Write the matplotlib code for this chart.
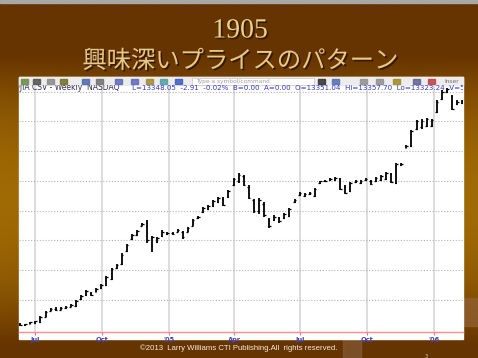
import numpy as np
import pandas as pd
import matplotlib
matplotlib.use("Agg")
import matplotlib.pyplot as plt
import matplotlib.dates as mdates
import matplotlib.patheffects as pe
from matplotlib.patches import Rectangle

# ---------------- data ----------------
title_top = "1905"
title_jp = "興味深いプライスのパターン"
footer = "©2013  Larry Williams CTI Publishing.All  rights reserved."
header_left = "DJIA CSV - Weekly  NASDAQ"
header_right = "L=13348.05  -2.91  -0.02%  B=0.00  A=0.00  O=13351.04  Hi=13357.70  Lo=13323.24  V=57"

start_date = "1904-06-10"
highs = [56.1, 56.0, 56.3, 56.5, 57.3, 58.2, 58.7, 58.8, 58.8, 59.0,
         59.3, 60.0, 60.8, 61.7, 61.3, 62.0, 62.7, 64.0, 65.4, 66.0,
         67.9, 69.4, 71.1, 71.8, 72.9, 73.4, 70.7, 70.6, 71.8, 71.4,
         71.4, 71.9, 71.6, 72.3, 73.6, 74.1, 75.6, 75.9, 76.8, 77.3,
         77.3, 78.5, 80.5, 81.3, 81.0, 79.3, 77.0, 77.1, 76.4, 73.8,
         74.3, 73.9, 74.6, 75.4, 77.0, 78.1, 78.0, 78.1, 78.8, 80.0,
         80.1, 80.5, 80.6, 80.5, 79.3, 79.8, 80.1, 80.1, 80.5, 80.1,
         80.6, 81.0, 81.5, 81.3, 83.0, 83.0, 86.0, 88.5, 90.2, 90.4,
         90.5, 90.4, 93.6, 95.2, 95.6, 94.4, 93.6, 93.6]
lows = [55.6, 55.6, 56.0, 56.0, 56.1, 57.2, 58.2, 58.2, 58.3, 58.5,
        58.8, 58.8, 60.0, 60.7, 60.7, 61.3, 61.9, 62.4, 63.4, 65.2,
        65.9, 68.1, 70.1, 70.7, 72.4, 69.6, 68.1, 69.6, 70.6, 70.9,
        70.9, 71.4, 70.2, 71.4, 72.4, 73.6, 74.6, 75.1, 75.6, 76.3,
        75.8, 77.1, 79.1, 79.6, 79.1, 77.0, 74.6, 74.4, 73.9, 72.1,
        73.3, 72.9, 73.6, 73.9, 76.3, 77.5, 77.3, 77.6, 77.3, 79.5,
        79.8, 80.0, 80.0, 78.5, 77.8, 78.1, 79.6, 79.5, 80.0, 79.3,
        79.8, 80.0, 80.1, 79.6, 79.5, 82.5, 85.5, 85.7, 88.5, 88.7,
        89.0, 89.0, 91.4, 93.6, 94.7, 91.9, 92.7, 92.9]
opens = [55.9, 55.8, 56.0, 56.2, 56.3, 57.2, 58.2, 58.5, 58.4, 58.6,
         58.9, 59.0, 60.1, 60.8, 61.2, 61.4, 62.0, 62.5, 63.5, 65.4,
         66.0, 68.2, 70.2, 70.9, 72.5, 73.0, 69.0, 69.8, 70.7, 71.0,
         71.3, 71.5, 71.4, 71.5, 72.5, 73.7, 74.8, 75.3, 75.8, 76.5,
         77.0, 77.3, 79.3, 80.0, 80.8, 79.0, 76.8, 75.0, 76.2, 73.5,
         73.4, 73.7, 73.8, 74.1, 76.4, 77.6, 77.5, 77.8, 77.5, 79.6,
         79.9, 80.1, 80.2, 80.3, 78.9, 78.3, 79.8, 79.6, 80.1, 80.0,
         79.9, 80.2, 80.3, 81.1, 79.6, 82.6, 85.6, 85.8, 88.7, 89.0,
         89.2, 89.2, 91.6, 93.8, 94.9, 94.2, 92.9, 93.0]
closes = [55.8, 56.0, 56.3, 56.4, 57.2, 58.0, 58.5, 58.4, 58.7, 58.9,
          59.2, 59.9, 60.7, 61.5, 60.8, 61.9, 62.5, 63.9, 65.2, 65.8,
          67.6, 69.2, 70.9, 71.6, 72.8, 70.0, 70.5, 70.4, 71.5, 71.3,
          71.0, 71.8, 70.5, 72.1, 73.4, 74.0, 75.4, 75.8, 76.6, 77.1,
          76.0, 78.3, 80.3, 81.0, 79.3, 77.2, 74.9, 76.8, 74.2, 72.4,
          74.0, 73.2, 74.4, 75.2, 76.8, 78.0, 77.8, 78.0, 78.6, 79.9,
          80.0, 80.4, 80.5, 78.7, 78.0, 79.6, 80.0, 80.0, 80.3, 79.5,
          80.5, 80.8, 81.3, 79.8, 82.8, 82.9, 85.9, 88.3, 90.0, 90.1,
          90.4, 90.2, 93.3, 95.0, 95.4, 92.1, 93.3, 93.4]

tick_dates = ["1904-07-01", "1904-10-01", "1905-01-01", "1905-04-01",
              "1905-07-01", "1905-10-01", "1906-01-01"]
tick_labels = ["Jul", "Oct", "'05", "Apr", "Jul", "Oct", "'06"]
grid_levels = [60, 65, 70, 75, 80, 85, 90, 95]

# ---------------- figure ----------------
W, H = 478, 358
fig = plt.figure(figsize=(W / 100, H / 100), dpi=100)

def fx(px):
    return px / W

def fy(py):
    return 1 - py / H

# background gradient (slide)
bg = fig.add_axes([0, 0, 1, 1], zorder=0)
bg.set_axis_off()
yy = np.linspace(0, H, 200)[:, None]
xx = np.linspace(0, W, 200)[None, :]
f = np.clip(1 - ((yy - 200) / 145) ** 2, 0, 1)
edge = np.clip(np.abs(xx - W / 2) / (W / 2), 0, 1) ** 0.6
f = f * (0.55 + 0.45 * edge)
dark = np.array([102, 52, 0]) / 255
gold = np.array([160, 106, 4]) / 255
img = dark[None, None, :] + (gold - dark)[None, None, :] * f[..., None]
bg.imshow(img, extent=[0, W, H, 0], aspect="auto")
bg.set_xlim(0, W)
bg.set_ylim(H, 0)
bg.add_patch(Rectangle((0, 0), W, 2.5, color="#a8a8a8"))
bg.add_patch(Rectangle((463, 298), 15, 28, color="#8e6030", alpha=0.8))
bg.add_patch(Rectangle((343, 339), 18, 19, color="#8a6040", alpha=0.6))

# titles
shadow = [pe.withSimplePatchShadow(offset=(1.2, -1.2), shadow_rgbFace="#2a1400", alpha=0.8)]
fig.text(fx(240), fy(31), title_top, fontsize=20, family="Liberation Serif",
         color="#e9d08e", ha="center", va="center", path_effects=shadow)
fig.text(fx(240), fy(61), title_jp, fontsize=17.5, family=["Noto Sans CJK JP", "DejaVu Sans"],
         color="#e6c98a", ha="center", va="center", path_effects=shadow)

# white chart panel + toolbar
bg.add_patch(Rectangle((19, 77), 444, 262, color="white", zorder=2))
bg.add_patch(Rectangle((19, 77), 444, 8, color="#ececec", zorder=3))
bg.add_patch(Rectangle((192, 77.5), 122, 7, facecolor="white", edgecolor="#c8c8c8", lw=0.5, zorder=4))
bg.text(196, 81.2, "Type a symbol/command", fontsize=4.2, color="#a0a0a0", va="center", zorder=5)
icon_x = [21, 33, 47, 60, 82, 96, 115, 131, 146, 160, 175, 318, 332, 360, 376, 393, 413, 428]
icon_c = ["#6a8a4a", "#505050", "#8a8a8a", "#707020", "#4a6aaa", "#707070", "#5a6aba", "#5a6aba",
          "#a08a30", "#50a0a0", "#3a5ac0", "#303030", "#5070b0", "#909090", "#909090", "#a08a20",
          "#606090", "#c04040"]
for x0, c in zip(icon_x, icon_c):
    bg.add_patch(Rectangle((x0, 78.5), 7, 5, color=c, alpha=0.85, zorder=4))
bg.text(444, 81.2, "Inser", fontsize=4.2, color="#707070", va="center", zorder=5)

# chart axes
ax = fig.add_axes([fx(19), 1 - 332 / H, fx(444), (332 - 85) / H], zorder=3)
ax.patch.set_alpha(0)

dates = pd.date_range(start_date, periods=len(highs), freq="7D")
xd = mdates.date2num(dates.to_pydatetime())
hi = np.array(highs)
lo = np.array(lows)
op = np.array(opens)
cl = np.array(closes)
ax.vlines(xd, lo, hi, color="black", lw=1.3, zorder=4)
ax.hlines(op, xd - 2.2, xd, color="black", lw=0.9, zorder=4)
ax.hlines(cl, xd, xd + 2.2, color="black", lw=0.9, zorder=4)

x0 = mdates.date2num(pd.Timestamp(start_date).to_pydatetime())
ax.set_xlim(x0 - 1.5, x0 + 610)
ax.set_ylim(54.63, 96.1)

tpos = mdates.date2num([pd.Timestamp(d).to_pydatetime() for d in tick_dates])
ax.set_xticks(tpos)
ax.set_xticklabels(tick_labels)
ax.set_yticks(grid_levels)
ax.tick_params(axis="x", colors="#ff7070", length=2.5, width=0.8, pad=0.8,
               labelsize=4.8, labelcolor="#4545a5")
for t in ax.get_xticklabels():
    t.set_fontweight("bold")
ax.tick_params(axis="y", left=False, labelleft=False)
for x in tpos:
    ax.axvline(x, color="#dadada", lw=1.3, zorder=1)
for g in grid_levels:
    ax.axhline(g, color="#b4b4b4", lw=0.8, ls=(0, (1, 1.6)), zorder=1)
for s in ["top", "left", "right"]:
    ax.spines[s].set_visible(False)
ax.spines["bottom"].set_color("#ff8a8a")
ax.spines["bottom"].set_linewidth(1.0)

# header line (data window)
ax.text(-0.012, 0.988, header_left, transform=ax.transAxes, fontsize=5.5, color="#33335a",
        va="center", ha="left", clip_on=True, zorder=5)
ax.text(0.255, 0.988, header_right, transform=ax.transAxes, fontsize=5.1, color="#3838c8",
        va="center", ha="left", clip_on=True, zorder=5)

# footer
fig.text(fx(239), fy(348), footer, fontsize=5.6,
         family=["Liberation Sans Narrow", "Liberation Sans", "DejaVu Sans"],
         color="#f4ecdc", ha="center", va="center")
fig.text(fx(426), fy(356), "3", fontsize=3.5, color="#e0d0b0", ha="center", va="center")

fig.savefig("out.png", dpi=100)
